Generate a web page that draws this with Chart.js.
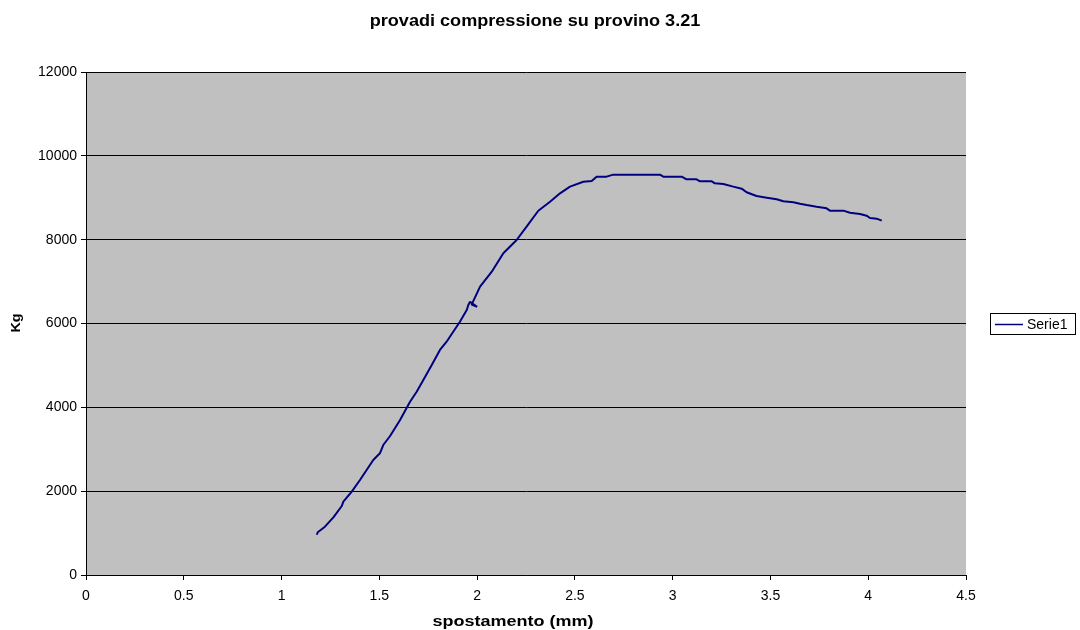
<!DOCTYPE html>
<html>
<head>
<meta charset="utf-8">
<script src="https://cdn.jsdelivr.net/npm/chart.js@4/dist/chart.umd.min.js"></script>
<style>
  html, body { margin: 0; padding: 0; background: #ffffff; }
  #wrap { width: 1080px; height: 630px; position: relative; }
</style>
</head>
<body>
<div id="wrap"><canvas id="c" width="1080" height="630"></canvas></div>
<script>
// Load test on specimen 3.21: displacement (mm) vs load (Kg)
const chartTitle = 'provadi compressione su provino 3.21';
const xTitle = 'spostamento (mm)';
const yTitle = 'Kg';
const seriesName = 'Serie1';

const spostamento = [
  1.180, 1.185, 1.222, 1.265, 1.308, 1.316, 1.359, 1.401, 1.435, 1.469,
  1.503, 1.520, 1.555, 1.606, 1.657, 1.691, 1.725, 1.768, 1.810, 1.844,
  1.878, 1.912, 1.947, 1.955, 1.964, 2.000, 1.972, 2.015, 2.075, 2.134,
  2.202, 2.253, 2.313, 2.373, 2.424, 2.475, 2.543, 2.586, 2.611, 2.662,
  2.696, 2.935, 2.952, 3.046, 3.071, 3.122, 3.140, 3.200, 3.216, 3.259,
  3.310, 3.353, 3.378, 3.429, 3.481, 3.532, 3.566, 3.617, 3.651, 3.685,
  3.736, 3.787, 3.804, 3.873, 3.907, 3.958, 3.992, 4.009, 4.043, 4.069
];
const carico = [
   960, 1020, 1153, 1376, 1646, 1749, 1988, 2266, 2505, 2744,
  2903, 3101, 3316, 3698, 4134, 4373, 4652, 5010, 5368, 5566,
  5804, 6043, 6322, 6440, 6520, 6400, 6450, 6878, 7236, 7675,
  7992, 8310, 8690, 8905, 9105, 9265, 9383, 9400, 9503, 9503,
  9551, 9551, 9503, 9503, 9440, 9440, 9392, 9392, 9344, 9328,
  9265, 9217, 9130, 9042, 9002, 8963, 8915, 8891, 8858, 8827,
  8787, 8748, 8692, 8692, 8644, 8612, 8572, 8517, 8501, 8453
];

const xTicks = [0, 0.5, 1, 1.5, 2, 2.5, 3, 3.5, 4, 4.5];
const yTicks = [0, 2000, 4000, 6000, 8000, 10000, 12000];

const points = spostamento.map((x, i) => ({ x: x, y: carico[i] }));
const FONT = 'Liberation Sans, Arial, sans-serif';

// text drawn slightly widened along its own direction
function wideText(ctx, text, x, y, font, sx, rot) {
  ctx.save();
  ctx.translate(x, y);
  if (rot) ctx.rotate(rot);
  ctx.scale(sx, 1);
  ctx.font = font;
  ctx.fillText(text, 0, 0);
  ctx.restore();
}

// Gray plot background, titles and the boxed legend on the right
const decorations = {
  id: 'decorations',
  beforeDraw(chart) {
    const { ctx, chartArea: a } = chart;
    ctx.save();
    ctx.fillStyle = '#c0c0c0';
    ctx.fillRect(a.left, a.top, a.right - a.left, a.bottom - a.top);
    ctx.restore();
  },
  afterDraw(chart) {
    const { ctx } = chart;
    ctx.save();
    ctx.fillStyle = '#000';
    ctx.textAlign = 'center';
    ctx.textBaseline = 'alphabetic';
    wideText(ctx, chartTitle, 535, 26, 'bold 16px ' + FONT, 1.13, 0);
    wideText(ctx, xTitle, 513, 626, 'bold 15px ' + FONT, 1.2, 0);
    wideText(ctx, yTitle, 20, 323, 'bold 12px ' + FONT, 1.2, -Math.PI / 2);
    ctx.restore();

    // legend
    const ds = chart.data.datasets[0];
    ctx.save();
    ctx.fillStyle = '#ffffff';
    ctx.fillRect(990.5, 313.5, 85, 21);
    ctx.strokeStyle = '#000';
    ctx.lineWidth = 1;
    ctx.strokeRect(990.5, 313.5, 85, 21);
    ctx.strokeStyle = ds.borderColor;
    ctx.lineWidth = 1.5;
    ctx.beginPath();
    ctx.moveTo(995, 324.5);
    ctx.lineTo(1023, 324.5);
    ctx.stroke();
    ctx.fillStyle = '#000';
    ctx.font = '14px ' + FONT;
    ctx.textAlign = 'left';
    ctx.textBaseline = 'middle';
    ctx.fillText(ds.label, 1027, 325);
    ctx.restore();
  }
};

new Chart(document.getElementById('c'), {
  type: 'scatter',
  data: {
    datasets: [{
      label: seriesName,
      data: points,
      showLine: true,
      borderColor: '#000080',
      borderWidth: 2,
      borderJoinStyle: 'bevel',
      pointRadius: 0,
      tension: 0,
      fill: false
    }]
  },
  options: {
    responsive: false,
    animation: false,
    layout: { padding: { left: 0, right: 114, top: 72, bottom: 0 } },
    plugins: {
      legend: { display: false },
      title: { display: false },
      tooltip: { enabled: false }
    },
    scales: {
      x: {
        type: 'linear',
        min: 0, max: 4.5,
        afterFit(s) { s.height = 55; },
        afterBuildTicks(s) { s.ticks = xTicks.map(v => ({ value: v })); },
        border: { display: true, color: '#000', width: 1 },
        grid: { display: true, drawOnChartArea: false, drawTicks: true, tickLength: 5, color: '#000' },
        ticks: {
          color: '#000',
          font: { family: FONT, size: 14 },
          padding: 8,
          maxRotation: 0,
          autoSkip: false,
          callback: v => String(v)
        }
      },
      y: {
        type: 'linear',
        min: 0, max: 12000,
        afterFit(s) { s.width = 86; },
        afterBuildTicks(s) { s.ticks = yTicks.map(v => ({ value: v })); },
        border: { display: true, color: '#000', width: 1 },
        grid: { display: true, drawOnChartArea: true, drawTicks: true, tickLength: 5, color: '#000', lineWidth: 1 },
        ticks: {
          color: '#000',
          font: { family: FONT, size: 14 },
          padding: 4,
          autoSkip: false,
          callback: v => String(v)
        }
      }
    }
  },
  plugins: [decorations]
});
</script>
</body>
</html>
